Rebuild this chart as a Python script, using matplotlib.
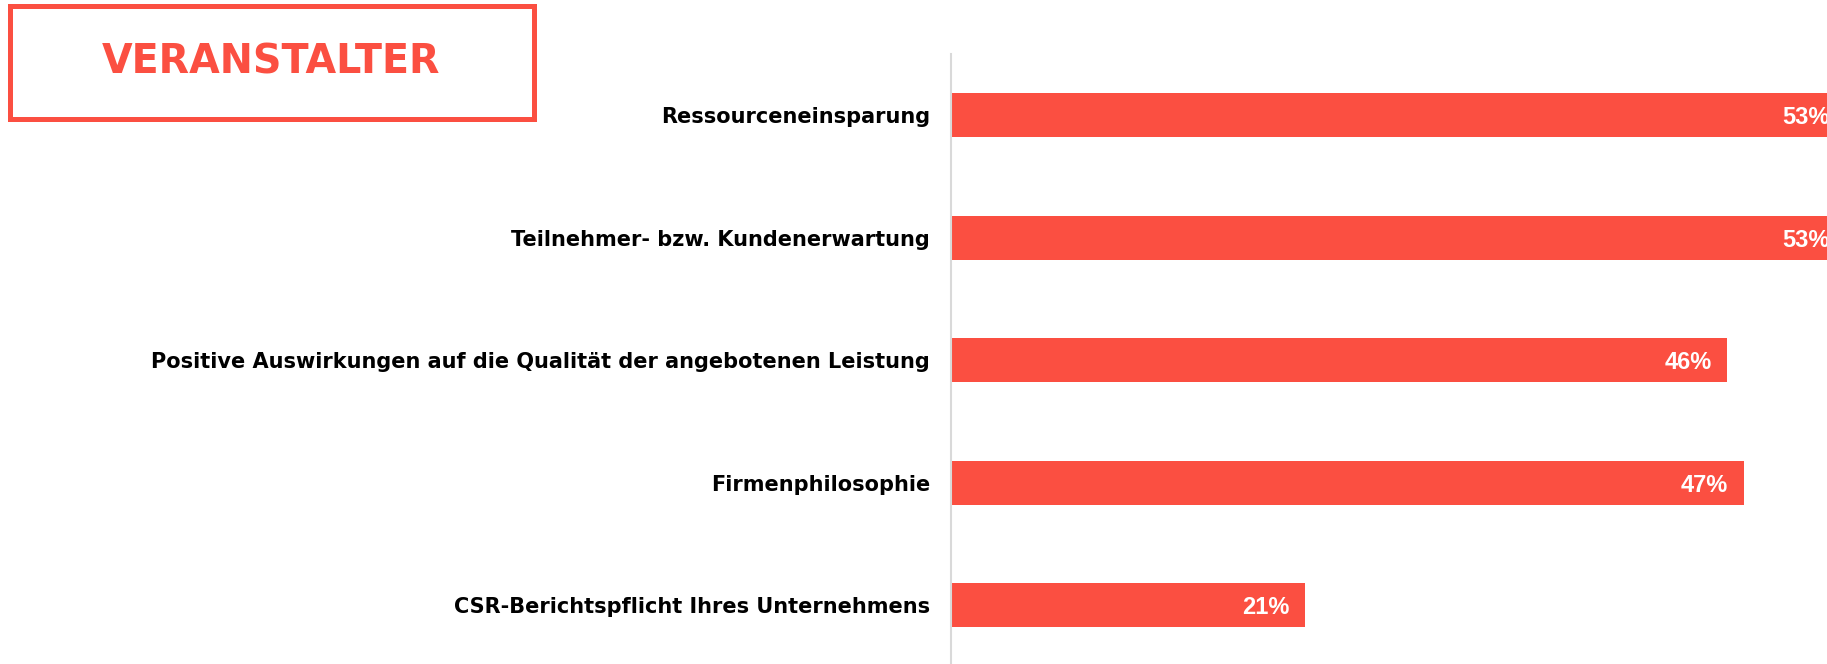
import matplotlib.pyplot as plt
from matplotlib.patches import Rectangle

# survey answers, share of organisers in percent
categories = [
    "Ressourceneinsparung",
    "Teilnehmer- bzw. Kundenerwartung",
    "Positive Auswirkungen auf die Qualität der angebotenen Leistung",
    "Firmenphilosophie",
    "CSR-Berichtspflicht Ihres Unternehmens",
]
values = [53, 53, 46, 47, 21]
title = "VERANSTALTER"

RED = "#fb4f41"
W, H = 1827, 664

fig = plt.figure(figsize=(W / 100, H / 100), dpi=100)

# axes runs a bit past the right edge so the 53% bars get cut off there
x0 = 951 / W
px_per_pct = 16.88
xmax = 55
ax = fig.add_axes([x0, 0, xmax * px_per_pct / W, (H - 54) / H])

y = list(range(len(categories)))
ax.barh(y, values, height=0.36, color=RED)
ax.set_xlim(0, xmax)
ax.set_ylim(4.48, -0.5)

for yi, v in zip(y, values):
    ax.text(v - 0.95, yi + 0.02, f"{v}%", ha="right", va="center", color="white",
            fontsize=17, fontweight="bold", family="Liberation Sans")

ax.set_yticks(y)
ax.set_yticklabels(categories, fontsize=15, fontweight="bold", family="DejaVu Sans")
ax.tick_params(axis="y", length=0, pad=15)
ax.set_xticks([])
for s in ["top", "right", "bottom"]:
    ax.spines[s].set_visible(False)
ax.spines["left"].set_color("#d9d9d9")
ax.spines["left"].set_linewidth(1.5)

# title box in the top left corner
fig.patches.append(Rectangle((9.5 / W, 1 - 118.5 / H), 524 / W, 113 / H,
                             transform=fig.transFigure, fill=False,
                             edgecolor=RED, linewidth=3.6))
fig.text(271 / W, 1 - 63 / H, title, ha="center", va="center", color=RED,
         fontsize=28.5, fontweight="bold", family="DejaVu Sans")

fig.savefig("out.png", dpi=100)
